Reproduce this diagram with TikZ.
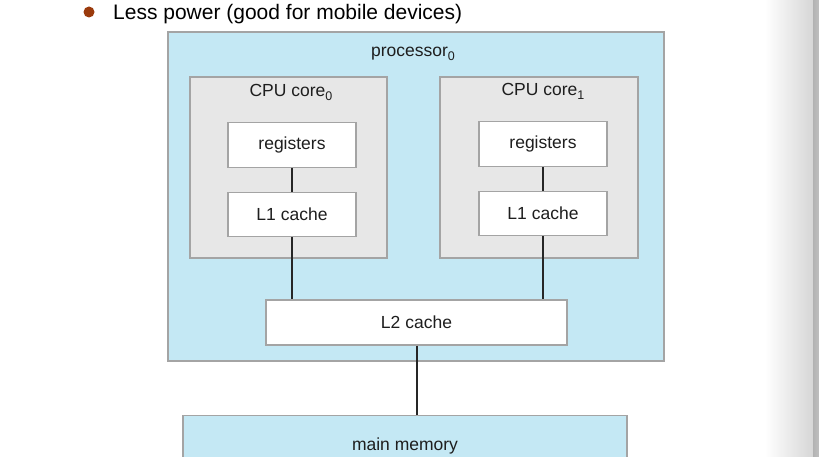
\documentclass[tikz,border=0pt]{standalone}
\usepackage{fontspec}
\setmainfont{Liberation Sans}
\definecolor{procblue}{HTML}{C4E8F4}
\definecolor{coregray}{HTML}{E7E7E7}
\definecolor{edgegray}{HTML}{A4A4A4}
\definecolor{txt}{HTML}{1E1E1E}
\definecolor{bulletc}{HTML}{9A3A0C}
\newcommand{\lowsub}[1]{\raisebox{-0.4ex}{\fontsize{12.5}{14}\selectfont #1}}
\begin{document}
\begin{tikzpicture}[x=1pt,y=-1pt,
  proc/.style={draw=edgegray,line width=1.2pt,fill=procblue},
  core/.style={draw=edgegray,line width=1.2pt,fill=coregray},
  unit/.style={draw=edgegray,line width=1.2pt,fill=white},
  lbl/.style={font=\fontsize{17.5}{20}\selectfont,text=txt,inner sep=0pt},
  link/.style={line width=2pt,draw=black!85}]
\useasboundingbox (0,0) rectangle (819,457);
\fill[white] (0,0) rectangle (819,457);
% right page edge shading
\shade[left color=white,right color=black!16] (765,0) rectangle (813,457);
\shade[left color=black!30,right color=black!25] (813,0) rectangle (819,457);
% bullet line
\fill[bulletc] (89,12) circle (5.5);
\node[anchor=base west,inner sep=0pt,font=\fontsize{21}{25}\selectfont,text=black] (bul) at (113,20) {Less power (good for mobile devices)};
% processor
\draw[proc] (168,32) rectangle (664,361);
\node[lbl,anchor=base] (proc) at (413,57) {processor\lowsub{0}};
% cores
\draw[core] (190,77) rectangle (387,258);
\node[lbl,anchor=base] (c0) at (291,97) {CPU core\lowsub{0}};
\draw[core] (440,77) rectangle (638,258);
\node[lbl,anchor=base] (c1) at (543,96) {CPU core\lowsub{1}};
% units
\node[unit,minimum width=128pt,minimum height=45pt,inner sep=0pt] (r0) at (292,145) {};
\node[lbl] at (r0) {registers};
\node[unit,minimum width=128pt,minimum height=44pt,inner sep=0pt] (l0) at (292,214.5) {};
\node[lbl] at (l0) {L1 cache};
\node[unit,minimum width=128pt,minimum height=45pt,inner sep=0pt] (r1) at (543,144) {};
\node[lbl] at (r1) {registers};
\node[unit,minimum width=128pt,minimum height=44pt,inner sep=0pt] (l1) at (543,213.5) {};
\node[lbl] at (l1) {L1 cache};
\node[unit,minimum width=301pt,minimum height=45pt,inner sep=0pt] (l2) at (416.5,322.5) {};
\node[lbl] at (l2) {L2 cache};
\node[proc,minimum width=444pt,minimum height=60pt,inner sep=0pt,anchor=north] (mm) at (405,415) {};
\node[lbl] at (405,446) {main memory};
% links
\draw[link] (r0.south) -- (l0.north);
\draw[link] (r1.south) -- (l1.north);
\draw[link] (l0.south) -- (l0.south |- l2.north);
\draw[link] (l1.south) -- (l1.south |- l2.north);
\draw[link] (l2.south -| mm.north) ++(11.5,0) coordinate (a) -- (a |- mm.north);
\end{tikzpicture}
\end{document}
